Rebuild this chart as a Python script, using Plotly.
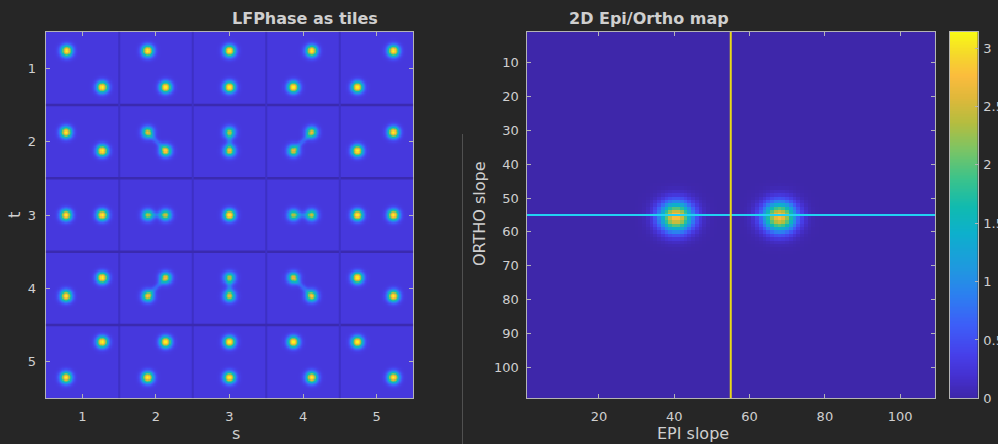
import numpy as np
import plotly.graph_objects as go

# ---------------- data ----------------
# Left panel: light-field phase tiles (5x5), dot centres in (s, t) axis units
dot_s = [0.786, 1.270, 1.887, 2.132, 3.000, 3.000, 4.117, 3.868, 5.228, 4.738,
         0.777, 1.270, 1.887, 2.132, 3.000, 3.000, 4.117, 3.868, 5.228, 4.738,
         0.777, 1.270, 1.887, 2.132, 3.000, 3.868, 4.117, 4.738, 5.228,
         0.777, 1.270, 1.887, 2.132, 3.000, 3.000, 3.868, 4.117, 4.738, 5.228,
         0.777, 1.270, 1.887, 2.132, 3.000, 3.000, 3.868, 4.117, 4.738, 5.228]
dot_t = [0.763, 1.257, 0.763, 1.257, 0.763, 1.257, 0.763, 1.257, 0.763, 1.257,
         1.873, 2.123, 1.873, 2.123, 1.873, 2.123, 1.873, 2.123, 1.873, 2.123,
         3.000, 3.000, 3.000, 3.000, 3.000, 3.000, 3.000, 3.000, 3.000,
         4.104, 3.855, 4.104, 3.855, 3.855, 4.104, 3.855, 4.104, 3.855, 4.104,
         5.215, 4.730, 5.215, 4.730, 4.730, 5.215, 4.730, 5.215, 4.730, 5.215]
dot_amp = [1.0, 1.0, 1.0, 1.0, 1.0, 1.0, 1.0, 1.0, 1.0, 1.0,
           1.0, 1.0, 0.72, 0.82, 0.64, 0.74, 0.74, 0.72, 1.0, 1.0,
           1.0, 1.0, 0.64, 0.68, 1.0, 0.64, 0.68, 1.0, 1.0,
           1.0, 1.0, 0.78, 0.74, 0.64, 0.72, 0.72, 0.80, 1.0, 1.0,
           1.0, 1.0, 1.0, 1.0, 1.0, 1.0, 1.0, 1.0, 1.0, 1.0]
# faint streaks joining close dot pairs: (s0, t0, s1, t1)
streaks = [(1.887, 1.873, 2.132, 2.123), (3.0, 1.873, 3.0, 2.123), (4.117, 1.873, 3.868, 2.123),
           (1.887, 3.0, 2.132, 3.0), (3.868, 3.0, 4.117, 3.0),
           (1.887, 4.104, 2.132, 3.855), (3.0, 3.855, 3.0, 4.104), (3.868, 3.855, 4.117, 4.104)]
tile_ticks = [1, 2, 3, 4, 5]
tile_edges = [1.5, 2.5, 3.5, 4.5]
left_base = 0.09

# Right panel: 2D Epi/Ortho map (109 x 109), two blobs
epi_n = 109
blob_epi = [40.5, 68.0]
blob_ortho = [55.5, 55.5]
blob_amp = [2.82, 2.80]
blob_sigma = 3.0
cross_epi = 55
cross_ortho = 55
epi_ticks = [20, 40, 60, 80, 100]
ortho_ticks = [10, 20, 30, 40, 50, 60, 70, 80, 90, 100]
cbar_ticks = [0, 0.5, 1, 1.5, 2, 2.5, 3]
cbar_max = 3.1416

# ---------------- build fields ----------------
N = 300
gs = np.linspace(0.5, 5.5, N)
S, T = np.meshgrid(gs, gs)
sig = 0.052
Z1 = np.full_like(S, left_base)
for s0, t0, a in zip(dot_s, dot_t, dot_amp):
    Z1 += (a - left_base) * np.exp(-((S - s0) ** 2 + (T - t0) ** 2) / (2 * sig ** 2))
for s0, t0, s1, t1 in streaks:
    dx, dy = s1 - s0, t1 - t0
    L2 = dx * dx + dy * dy
    u = np.clip(((S - s0) * dx + (T - t0) * dy) / L2, 0, 1)
    px, py = s0 + u * dx, t0 + u * dy
    Z1 += 0.13 * np.exp(-((S - px) ** 2 + (T - py) ** 2) / (2 * (0.025) ** 2))
Z1 = np.minimum(Z1, 1.0)

ge = np.arange(1, epi_n + 1)
E, O = np.meshgrid(ge, ge)
Z2 = np.full(E.shape, 0.01)
for e0, o0, a in zip(blob_epi, blob_ortho, blob_amp):
    Z2 += a * np.exp(-((E - e0) ** 2 + (O - o0) ** 2) / (2 * blob_sigma ** 2))

cb_vals = np.linspace(0, cbar_max, 256)

parula = [
    [0.00, "#3e26a8"], [0.06, "#4530d0"], [0.12, "#4640ea"], [0.20, "#3d5ef8"],
    [0.28, "#2c7ff0"], [0.35, "#2097e0"], [0.45, "#0db0cc"], [0.52, "#10bab0"],
    [0.60, "#3cc38a"], [0.68, "#7dc463"], [0.75, "#b4bd3f"], [0.82, "#e0b83a"],
    [0.88, "#fbbc3d"], [0.94, "#f5d92a"], [1.00, "#f9fb15"],
]

BG = "#262626"
TXT = "#cfcfcf"
AX = "#b4b4b4"
FONT = "DejaVu Sans"

fig = go.Figure()
fig.add_trace(go.Heatmap(x=gs, y=gs, z=Z1, colorscale=parula, zmin=0, zmax=1,
                         showscale=False, xaxis="x", yaxis="y", hoverinfo="skip"))
fig.add_trace(go.Heatmap(x=ge, y=ge, z=Z2, colorscale=parula, zmin=0, zmax=cbar_max,
                         showscale=False, xaxis="x2", yaxis="y2", hoverinfo="skip"))
# colour bar drawn as its own small axes
fig.add_trace(go.Heatmap(x=[0], y=cb_vals, z=cb_vals[:, None], colorscale=parula, zmin=0, zmax=cbar_max,
                         showscale=False, xaxis="x3", yaxis="y3", hoverinfo="skip"))

# crosshair lines
fig.add_trace(go.Scatter(x=[0.5, epi_n + 0.5], y=[cross_ortho, cross_ortho], mode="lines",
                         line=dict(color="#22d2f2", width=2), xaxis="x2", yaxis="y2",
                         showlegend=False, hoverinfo="skip"))
fig.add_trace(go.Scatter(x=[cross_epi, cross_epi], y=[0.3, epi_n + 0.5], mode="lines",
                         line=dict(color="#e8d81a", width=2), xaxis="x2", yaxis="y2",
                         showlegend=False, hoverinfo="skip", cliponaxis=False))

shapes = []
for e in tile_edges:
    shapes.append(dict(type="line", xref="x", yref="y", x0=0.5, x1=5.5, y0=e, y1=e,
                       line=dict(color="#3a2ab0", width=2.5)))
    shapes.append(dict(type="line", xref="x", yref="y", x0=e, x1=e, y0=0.5, y1=5.5,
                       line=dict(color="#3d30c4", width=2)))
shapes.append(dict(type="line", xref="paper", yref="paper", x0=462.5 / 998, x1=462.5 / 998,
                   y0=0, y1=1 - 134 / 444, line=dict(color="#505050", width=1)))

ax_common = dict(showline=True, linecolor=AX, linewidth=1, mirror="ticks", ticks="inside",
                 ticklen=4, tickcolor=AX, showgrid=False, zeroline=False, automargin=False,
                 tickfont=dict(family=FONT, size=13, color=TXT))

ydom = [1 - 398.3 / 444, 1 - 31.7 / 444]
def px_x(v):
    return v / 998
def px_y(v):
    return 1 - v / 444

title_font = dict(family=FONT, size=16, color=TXT)
label_font = dict(family=FONT, size=16, color=TXT)

fig.update_layout(
    width=998, height=444, paper_bgcolor=BG, plot_bgcolor=BG,
    margin=dict(l=0, r=0, t=0, b=0), showlegend=False,
    xaxis=dict(domain=[px_x(45.7), px_x(413.3)], range=[0.5, 5.5], tickvals=tile_ticks,
               ticklabelstandoff=6, **ax_common),
    yaxis=dict(domain=ydom, range=[5.5, 0.5], tickvals=tile_ticks,
               ticklabelstandoff=6, **ax_common),
    xaxis2=dict(domain=[px_x(526.5), px_x(935)], range=[0.75, 109.25], tickvals=epi_ticks,
                anchor="y2", ticklabelstandoff=6, **ax_common),
    yaxis2=dict(domain=ydom, range=[109.2, 0.8], tickvals=ortho_ticks,
                anchor="x2", ticklabelstandoff=4, **ax_common),
    xaxis3=dict(domain=[px_x(950), px_x(977.7)], range=[-0.5, 0.5], anchor="y3",
                showline=True, linecolor=AX, linewidth=1, mirror=True, ticks="",
                showticklabels=False, showgrid=False, zeroline=False, automargin=False),
    yaxis3=dict(domain=ydom, range=[0, cbar_max], anchor="x3", side="right",
                tickvals=cbar_ticks, ticktext=[str(v) for v in cbar_ticks],
                showline=True, linecolor=AX, linewidth=1, mirror=True, ticks="inside",
                ticklen=3, tickcolor=AX, showgrid=False, zeroline=False, automargin=False,
                ticklabelstandoff=2, tickfont=dict(family=FONT, size=13, color=TXT)),
    shapes=shapes,
    annotations=[
        dict(text="<b>LFPhase as tiles</b>", x=px_x(229.5), y=px_y(18), xref="paper", yref="paper",
             yanchor="middle", showarrow=False, font=title_font),
        dict(text="<b>2D Epi/Ortho map</b>", x=px_x(730.7), y=px_y(18), xref="paper", yref="paper",
             yanchor="middle", showarrow=False, font=title_font),
        dict(text="s", x=px_x(229.5), y=px_y(433), xref="paper", yref="paper",
             yanchor="middle", showarrow=False, font=label_font),
        dict(text="EPI slope", x=px_x(730.7), y=px_y(433), xref="paper", yref="paper",
             yanchor="middle", showarrow=False, font=label_font),
        dict(text="t", x=px_x(14), y=px_y(215), xref="paper", yref="paper", textangle=-90,
             xanchor="center", yanchor="middle", showarrow=False, font=label_font),
        dict(text="ORTHO slope", x=px_x(480), y=px_y(214), xref="paper", yref="paper", textangle=-90,
             xanchor="center", yanchor="middle", showarrow=False, font=label_font),
    ],
)

fig.write_html("out.html", config={"displayModeBar": False},
               post_script="document.body.style.margin='0';document.body.style.overflow='hidden';"
                           "document.body.style.background='#262626';")
